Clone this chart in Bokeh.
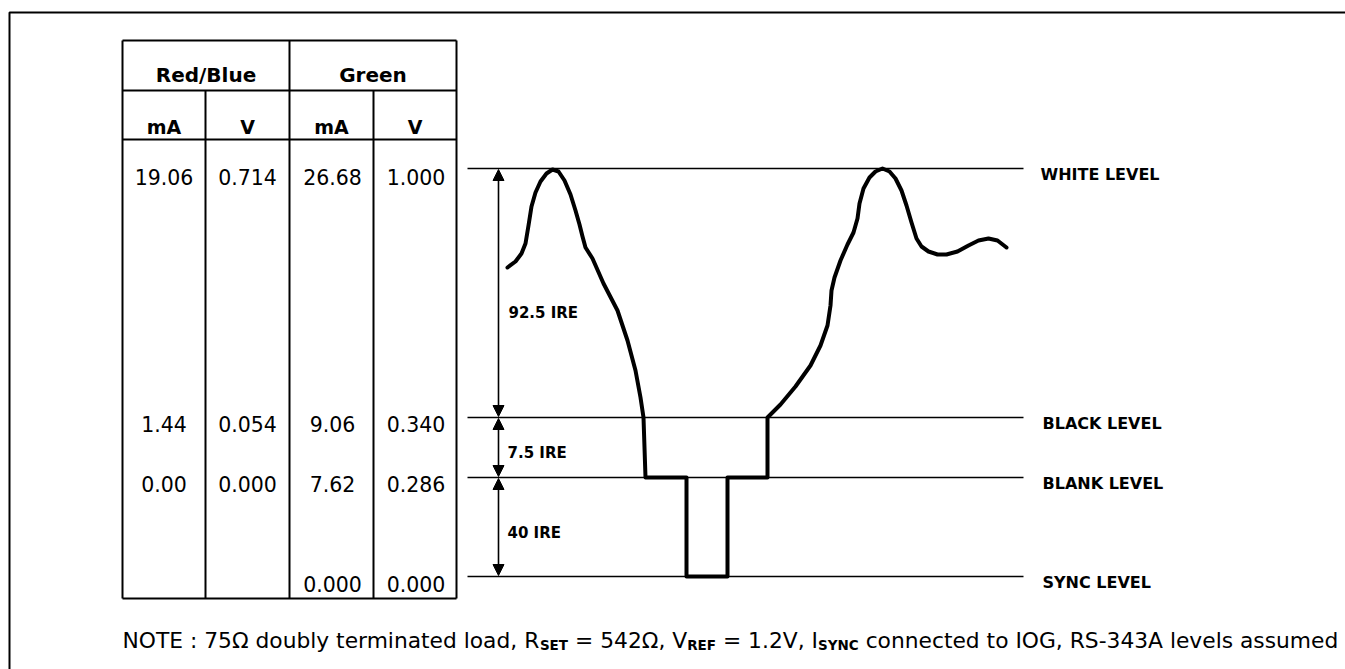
from bokeh.plotting import figure
from bokeh.models import Range1d, Arrow, NormalHead
from bokeh.core.properties import value
from bokeh.embed import file_html
from bokeh.resources import INLINE

# ---------------- data ----------------
group_headers = ["Red/Blue", "Green"]
unit_headers = ["mA", "V", "mA", "V"]
rb_mA = ["19.06", "1.44", "0.00", ""]
rb_V = ["0.714", "0.054", "0.000", ""]
green_mA = ["26.68", "9.06", "7.62", "0.000"]
green_V = ["1.000", "0.340", "0.286", "0.000"]
level_names = ["WHITE LEVEL", "BLACK LEVEL", "BLANK LEVEL", "SYNC LEVEL"]
ire_spans = ["92.5 IRE", "7.5 IRE", "40 IRE"]

# video waveform (diagram units)
wave_x = [507, 515, 521, 525, 528, 531, 535, 540, 546, 552, 558, 564, 570, 575, 579,
          582, 585, 592, 603, 617, 627, 635, 640, 643, 644, 645, 686, 686, 727, 727,
          767, 767, 780, 795, 810, 820, 827, 830, 831, 834, 840, 847, 853, 857, 859,
          863, 869, 875, 882, 889, 895, 901, 906, 911, 916, 921, 928, 937, 946, 957,
          968, 978, 988, 997, 1006]
wave_y = [267, 261, 253, 243, 225, 206, 192, 181, 173, 169, 171, 180, 194, 210, 224,
          236, 247, 258, 283, 310, 340, 370, 397, 417, 447, 477, 477, 576, 576, 477,
          477, 417, 404, 386, 365, 345, 325, 305, 290, 277, 260, 244, 232, 218, 203,
          188, 177, 171, 168, 171, 178, 190, 205, 222, 238, 246, 251, 254, 254, 251,
          245, 240, 238, 240, 247]

note_segments = [("NOTE : 75Ω doubly terminated load, R", False), ("SET", True),
                 (" = 542Ω, V", False), ("REF", True),
                 (" = 1.2V, I", False), ("SYNC", True),
                 (" connected to IOG, RS-343A levels assumed", False)]

# ---------------- layout ----------------
W, H = 1345, 669
FONT = "DejaVu Sans"

p = figure(width=W, height=H, x_range=Range1d(0, W), y_range=Range1d(H, 0),
           output_backend="svg", toolbar_location=None, min_border=0,
           x_axis_location=None, y_axis_location=None)
p.grid.visible = False
p.outline_line_color = None
p.background_fill_color = "white"
p.border_fill_color = "white"

# outer frame
p.line([9, 9, 1345], [669, 12, 12], line_color="black", line_width=2)

# table geometry
tx0, tx1 = 122, 456
col_edges = [122, 205, 289, 373, 456]
ty0, ty_h1, ty_h2, ty1 = 40, 90, 139, 598
row_y = [176, 423, 483, 583]

# table borders
sx0 = [tx0, tx0, tx0, tx0, tx0, tx1, col_edges[2], col_edges[1], col_edges[3]]
sy0 = [ty0, ty_h1, ty_h2, ty1, ty0, ty0, ty0, ty_h1, ty_h1]
sx1 = [tx1, tx1, tx1, tx1, tx0, tx1, col_edges[2], col_edges[1], col_edges[3]]
sy1 = [ty0, ty_h1, ty_h2, ty1, ty1, ty1, ty1, ty1, ty1]
p.segment(sx0, sy0, sx1, sy1, line_color="black", line_width=2)

centers = [(col_edges[i] + col_edges[i + 1]) / 2 for i in range(4)]
p.text(x=[(col_edges[0] + col_edges[2]) / 2, (col_edges[2] + col_edges[4]) / 2], y=[74, 74],
       text=group_headers, text_font=value(FONT), text_font_style="bold",
       text_font_size="20px", text_align="center", text_baseline="alphabetic", text_color="black")
p.text(x=centers, y=[126] * 4, text=unit_headers, text_font=value(FONT), text_font_style="bold",
       text_font_size="19px", text_align="center", text_baseline="alphabetic", text_color="black")

for ci, col in enumerate([rb_mA, rb_V, green_mA, green_V]):
    xs, ys, ts = [], [], []
    for ri, v in enumerate(col):
        if v:
            xs.append(centers[ci] + (1 if ci >= 2 else 0))
            ys.append(row_y[ri])
            ts.append(v)
    p.text(x=xs, y=ys, text=ts, text_font=value(FONT), text_font_size="20.5px",
           text_align="center", text_baseline="alphabetic", text_color="black")

# level lines
level_y = [168, 417, 477, 576]
p.segment([467] * 4, level_y, [1023] * 4, level_y, line_color="black", line_width=1.6)
p.text(x=[1040, 1042, 1042, 1042], y=[y + 6 for y in level_y], text=level_names,
       text_font=value(FONT), text_font_style="bold", text_font_size="16px",
       text_align="left", text_baseline="alphabetic", text_color="black")

# dimension arrows
ax = 498
for (ya, yb) in [(level_y[0], level_y[1]), (level_y[1], level_y[2]), (level_y[2], level_y[3])]:
    p.add_layout(Arrow(x_start=ax, y_start=ya + 1, x_end=ax, y_end=yb - 1,
                       line_color="black", line_width=1.6,
                       start=NormalHead(size=11, fill_color="black", line_color="black", line_width=1),
                       end=NormalHead(size=11, fill_color="black", line_color="black", line_width=1)))
p.text(x=[508, 507, 507], y=[312, 452, 532], text=ire_spans, text_font=value(FONT),
       text_font_style="bold", text_font_size="15px", text_align="left",
       text_baseline="alphabetic", text_color="black")

# waveform
p.line(wave_x, wave_y, line_color="black", line_width=4, line_join="round", line_cap="round")

# note with subscripts
reg = {' ': 318, ':': 337, ',': 318, '.': 318, '-': 361, '=': 838, 'Ω': 764,
       'A': 684, 'C': 698, 'E': 632, 'F': 575, 'G': 775, 'I': 295, 'N': 748, 'O': 787,
       'R': 696, 'S': 635, 'T': 611, 'V': 684, 'Y': 611,
       'a': 613, 'b': 635, 'c': 550, 'd': 635, 'e': 615, 'i': 278, 'l': 278, 'm': 974,
       'n': 634, 'o': 612, 'r': 411, 's': 521, 't': 392, 'u': 634, 'v': 592, 'y': 592}
bold = {'S': 721, 'E': 683, 'T': 682, 'R': 770, 'F': 683, 'Y': 724, 'N': 837, 'C': 734}
SUB = 0.62


def em(s, table):
    return sum(table.get(c, 636) for c in s) / 1000.0


note_x0, note_x1, note_base = 122, 1338, 640
total = sum(em(t, bold) * SUB if s else em(t, reg) for t, s in note_segments)
fs = (note_x1 - note_x0) / total
x = note_x0
for t, s in note_segments:
    if s:
        p.text(x=[x], y=[note_base + fs * 0.22], text=[t], text_font=value(FONT),
               text_font_style="bold", text_font_size=f"{fs * SUB:.2f}px",
               text_align="left", text_baseline="alphabetic", text_color="black")
        x += em(t, bold) * SUB * fs
    else:
        lead = len(t) - len(t.lstrip(" "))
        p.text(x=[x + em(" " * lead, reg) * fs], y=[note_base], text=[t.strip(" ")],
               text_font=value(FONT), text_font_size=f"{fs:.2f}px",
               text_align="left", text_baseline="alphabetic", text_color="black")
        x += em(t, reg) * fs

open("out.html", "w").write(file_html(p, INLINE))
